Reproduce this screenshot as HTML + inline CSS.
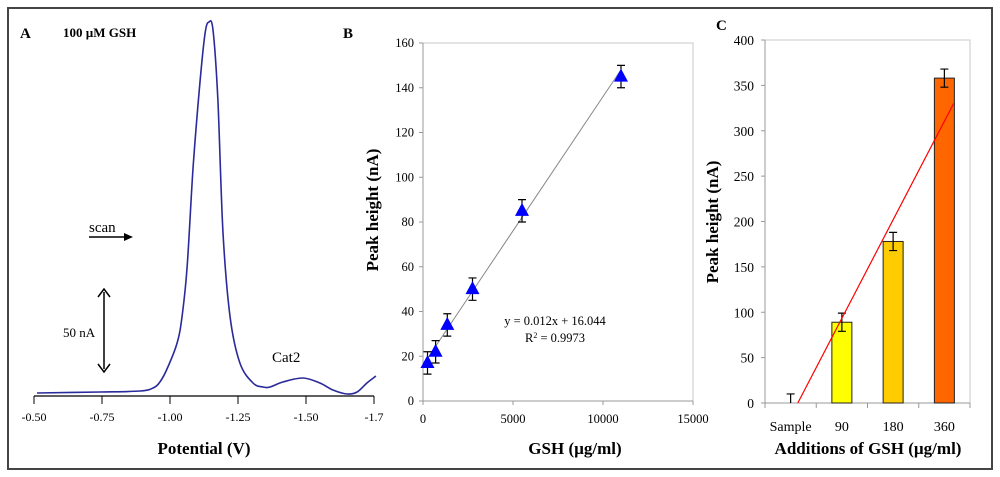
<!DOCTYPE html>
<html><head><meta charset="utf-8"><style>
body{margin:0;background:#fff}
svg{display:block;font-family:"Liberation Serif",serif}
</style></head><body>
<svg id="fig" width="1000" height="477" viewBox="0 0 1000 477">
<rect x="8" y="8" width="984" height="461" fill="none" stroke="#444" stroke-width="2"/>
<g id="pa"></g>
<g id="pb"></g>
<g id="pc"></g>
</svg>
<script>
// Panel A data
const aTickVals=[-0.50,-0.75,-1.00,-1.25,-1.50,-1.75];
const aTickLabels=["-0.50","-0.75","-1.00","-1.25","-1.50","-1.7"];
const aPot=[-0.511,-0.743,-0.890,-0.938,-0.963,-0.989,-1.026,-1.044,-1.063,-1.085,-1.110,-1.129,-1.143,-1.158,-1.176,-1.195,-1.221,-1.257,-1.305,-1.342,-1.368,-1.415,-1.489,-1.551,-1.599,-1.651,-1.688,-1.724,-1.757];
const aCur=[0,1,2,5,11,24,50,76,126,226,310,360,371,363,293,160,76,30,10,6,6,11,15,10,3,-1,1,10,17];
// Panel B data
const bX=[250,700,1350,2750,5500,11000];
const bY=[17,22,34,50,85,145];
const bErr=[5,5,5,5,5,5];
const bYTicks=[0,20,40,60,80,100,120,140,160];
const bXTicks=[0,5000,10000,15000];
const bFit=[0.012,16.044];
// Panel C data
const cCats=["Sample","90","180","360"];
const cVals=[0,89,178,358];
const cErr=[10,10,10,10];
const cColors=["#ffff00","#ffff00","#ffcc00","#ff6600"];
const cYTicks=[0,50,100,150,200,250,300,350,400];
const cLine=[[0.14,0],[3.18,330]];

const NS="http://www.w3.org/2000/svg";
function mk(p,t,a,txt){const e=document.createElementNS(NS,t);for(const k in a)e.setAttribute(k,a[k]);if(txt!=null)e.textContent=txt;p.appendChild(e);return e;}
// ---------- A
const pa=document.getElementById('pa');
const ax=v=>34+(v-(-0.5))/(-0.25)*68;
const ay=v=>393-v;
const P=aPot.map((p,i)=>[ax(p),ay(aCur[i])]);
let d='M'+P[0][0].toFixed(1)+','+P[0][1].toFixed(1);
for(let i=0;i<P.length-1;i++){
 const p0=P[Math.max(0,i-1)],p1=P[i],p2=P[i+1],p3=P[Math.min(P.length-1,i+2)];
 const c1=[p1[0]+(p2[0]-p0[0])/6,p1[1]+(p2[1]-p0[1])/6],c2=[p2[0]-(p3[0]-p1[0])/6,p2[1]-(p3[1]-p1[1])/6];
 d+=` C${c1[0].toFixed(1)},${c1[1].toFixed(1)} ${c2[0].toFixed(1)},${c2[1].toFixed(1)} ${p2[0].toFixed(1)},${p2[1].toFixed(1)}`;
}
let e=mk(pa,'path',{d:d,fill:'none',stroke:'#2a2a9a','stroke-width':1.6,'stroke-linejoin':'round'});


e=mk(pa,'line',{x1:34,y1:396,x2:374,y2:396,stroke:'#000','stroke-width':1.2});


aTickVals.forEach((v,i)=>{
 const x=Math.min(ax(v),374);
 let t=mk(pa,'line',{x1:x,y1:396,x2:x,y2:404,stroke:'#000'});
 
 
 let l=mk(pa,'text',{x:x,y:421,'text-anchor':'middle','font-size':12},aTickLabels[i]);
 
 
});
mk(pa,'text',{x:20,y:38,'font-size':15,'font-weight':'bold',},'A');
mk(pa,'text',{x:63,y:37,'font-size':13,'font-weight':'bold',},'100 µM GSH');
mk(pa,'text',{x:89,y:232,'font-size':15,},'scan');
mk(pa,'line',{x1:89,y1:237,x2:126,y2:237,stroke:'#000','stroke-width':1.5,});
mk(pa,'path',{d:'M124,233 L133,237 L124,241 Z',fill:'#000'});
mk(pa,'line',{x1:104,y1:292,x2:104,y2:369,stroke:'#000','stroke-width':1.5,});
mk(pa,'path',{d:'M98,297 L104,289 L110,297 M98,364 L104,372 L110,364',fill:'none',stroke:'#000','stroke-width':1.5});
mk(pa,'text',{x:63,y:337,'font-size':13,},'50 nA');
mk(pa,'text',{x:272,y:362,'font-size':15,},'Cat2');
mk(pa,'text',{x:204,y:454,'font-size':17,'font-weight':'bold','text-anchor':'middle',},'Potential (V)');
// ---------- B
const pb=document.getElementById('pb');
const bx=v=>423+v/15000*270;
const by=v=>401-v/160*358;
mk(pb,'rect',{x:423,y:43,width:270,height:358,fill:'none',stroke:'#c8c8c8',});
mk(pb,'line',{x1:423,y1:43,x2:423,y2:401,stroke:'#999'});
mk(pb,'line',{x1:423,y1:401,x2:693,y2:401,stroke:'#999'});
bYTicks.forEach(v=>{
 let t=mk(pb,'line',{x1:419,y1:by(v),x2:423,y2:by(v),stroke:'#999'});
 
 
 let l=mk(pb,'text',{x:414,y:by(v)+4,'text-anchor':'end','font-size':12.5},String(v));
 
 
});
bXTicks.forEach(v=>{
 let t=mk(pb,'line',{x1:bx(v),y1:401,x2:bx(v),y2:405,stroke:'#999'});
 
 
 let l=mk(pb,'text',{x:bx(v),y:423,'text-anchor':'middle','font-size':12.5},String(v));
 
 
});
const fx0=bX[0],fx1=bX[bX.length-1];
e=mk(pb,'line',{x1:bx(fx0),y1:by(bFit[0]*fx0+bFit[1]),x2:bx(fx1),y2:by(bFit[0]*fx1+bFit[1]),stroke:'#888','stroke-width':1});


bX.forEach((v,i)=>{
 const cx=bx(v),cy=by(bY[i]),t=by(bY[i]+bErr[i]),b=by(bY[i]-bErr[i]);
 let g=mk(pb,'path',{d:`M${cx},${t}V${b}M${cx-4},${t}H${cx+4}M${cx-4},${b}H${cx+4}`,stroke:'#000','stroke-width':1.2,fill:'none'});
 
 
 let p=mk(pb,'path',{d:`M${cx},${cy-8}L${cx+7},${cy+5}L${cx-7},${cy+5}Z`,fill:'#0000ff'});
 
 
});
mk(pb,'text',{x:343,y:38,'font-size':15,'font-weight':'bold',},'B');
mk(pb,'text',{x:555,y:325,'font-size':12.5,'text-anchor':'middle',},'y = 0.012x + 16.044');
let r=mk(pb,'text',{x:555,y:342,'font-size':12.5,'text-anchor':'middle',},'R');
mk(r,'tspan',{'font-size':8,dy:-4},'2');mk(r,'tspan',{dy:4},' = 0.9973');
mk(pb,'text',{x:378,y:210,'font-size':17,'font-weight':'bold','text-anchor':'middle',transform:'rotate(-90 378 210)',},'Peak height (nA)');
mk(pb,'text',{x:575,y:454,'font-size':17,'font-weight':'bold','text-anchor':'middle',},'GSH (µg/ml)');
// ---------- C
const pc=document.getElementById('pc');
const cw=205/cCats.length;
const cx=i=>765+cw*(i+0.5);
const cy=v=>403-v/400*363;
mk(pc,'rect',{x:765,y:40,width:205,height:363,fill:'none',stroke:'#c8c8c8',});
mk(pc,'line',{x1:765,y1:40,x2:765,y2:403,stroke:'#999'});
mk(pc,'line',{x1:765,y1:403,x2:970,y2:403,stroke:'#999'});
cYTicks.forEach(v=>{
 let t=mk(pc,'line',{x1:761,y1:cy(v),x2:765,y2:cy(v),stroke:'#999'});
 
 
 let l=mk(pc,'text',{x:754,y:cy(v)+5,'text-anchor':'end','font-size':13.5},String(v));
 
 
});
for(let i=0;i<=cCats.length;i++){
 let t=mk(pc,'line',{x1:765+cw*i,y1:403,x2:765+cw*i,y2:408,stroke:'#999'});
 
 
}
cCats.forEach((c,i)=>{
 const v=cVals[i];
 if(v>0){
  let b=mk(pc,'rect',{x:cx(i)-10,y:cy(v),width:20,height:cy(0)-cy(v),fill:cColors[i],stroke:'#222','stroke-width':1});
  
  
 }
 const t=cy(v+cErr[i]),bo=Math.min(cy(v-cErr[i]),403);
 let g=mk(pc,'path',{d:`M${cx(i)},${t}V${bo}M${cx(i)-4},${t}H${cx(i)+4}`+(v>0?`M${cx(i)-4},${bo}H${cx(i)+4}`:''),stroke:'#000','stroke-width':1.2,fill:'none'});
 
 
 let l=mk(pc,'text',{x:cx(i),y:431,'text-anchor':'middle','font-size':14},c);
 
 
});
e=mk(pc,'line',{x1:cx(cLine[0][0]),y1:cy(cLine[0][1]),x2:cx(cLine[1][0]),y2:cy(cLine[1][1]),stroke:'#ff0000','stroke-width':1.2});


mk(pc,'text',{x:716,y:30,'font-size':15,'font-weight':'bold',},'C');
mk(pc,'text',{x:718,y:222,'font-size':17,'font-weight':'bold','text-anchor':'middle',transform:'rotate(-90 718 222)',},'Peak height (nA)');
mk(pc,'text',{x:868,y:454,'font-size':17,'font-weight':'bold','text-anchor':'middle',},'Additions of GSH (µg/ml)');
</script>
</body></html>
